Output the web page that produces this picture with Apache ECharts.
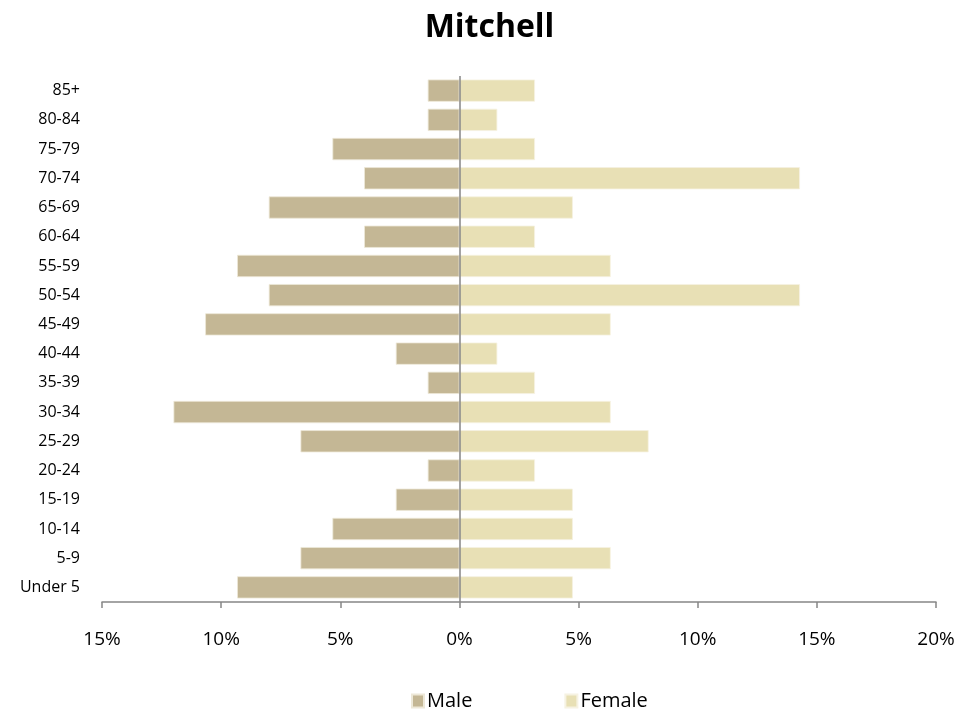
<!DOCTYPE html>
<html>
<head>
<meta charset="utf-8">
<script src="https://cdn.jsdelivr.net/npm/echarts@6/dist/echarts.min.js"></script>
<style>html,body{margin:0;padding:0;background:#fff;}#chart{width:979px;height:713px;}</style>
</head>
<body>
<div id="chart"></div>
<script>
const categories = ['Under 5','5-9','10-14','15-19','20-24','25-29','30-34','35-39','40-44','45-49','50-54','55-59','60-64','65-69','70-74','75-79','80-84','85+'];
const malePct = [9.33, 6.67, 5.33, 2.67, 1.33, 6.67, 12.0, 1.33, 2.67, 10.67, 8.0, 9.33, 4.0, 8.0, 4.0, 5.33, 1.33, 1.33];
const femalePct = [4.76, 6.35, 4.76, 4.76, 3.17, 7.94, 6.35, 3.17, 1.59, 6.35, 14.29, 6.35, 3.17, 4.76, 14.29, 3.17, 1.59, 3.17];
const xTicks = { min: -15, max: 20, interval: 5 };

const font = '"Open Sans", "Liberation Sans", sans-serif';
const chart = echarts.init(document.getElementById('chart'));
chart.setOption({
  animation: false,
  title: {
    text: 'Mitchell', left: 'center', top: 7,
    textStyle: { fontFamily: font, fontSize: 32, fontWeight: 'bold', color: '#000' }
  },
  legend: {
    top: 686, left: 406, itemWidth: 12, itemHeight: 13, itemGap: 92,
    icon: 'rect',
    textStyle: { fontFamily: font, fontSize: 20, color: '#000', padding: [0,0,0,-2] },
    data: ['Male', 'Female']
  },
  grid: { left: 102, right: 43, top: 76, height: 526, containLabel: false },
  xAxis: {
    type: 'value', min: xTicks.min, max: xTicks.max, interval: xTicks.interval,
    axisLine: { show: true, onZero: false, lineStyle: { color: '#868686', width: 1.5 } },
    axisTick: { show: true, length: 6, lineStyle: { color: '#868686', width: 1.5 } },
    splitLine: { show: false },
    axisLabel: {
      margin: 28, fontFamily: font, fontSize: 19, color: '#000',
      formatter: v => Math.abs(v) + '%'
    }
  },
  yAxis: {
    type: 'category', data: categories,
    axisLine: { show: false }, axisTick: { show: false },
    axisLabel: { margin: 22, fontFamily: font, fontSize: 16, color: '#000' }
  },
  series: [
    {
      name: 'Male', type: 'bar', stack: 'total', barCategoryGap: '24%',
      data: malePct.map(v => -v),
      itemStyle: { color: '#C4B795', borderColor: '#ede8d8', borderWidth: 0.8 },
      markLine: {
        silent: true, symbol: 'none', label: { show: false },
        lineStyle: { color: '#868686', width: 1.5, type: 'solid' },
        data: [{ xAxis: 0 }]
      },
      z: 2
    },
    {
      name: 'Female', type: 'bar', stack: 'total', barCategoryGap: '24%',
      data: femalePct,
      itemStyle: { color: '#E8E0B5', borderColor: '#f6f2e2', borderWidth: 0.8 },
      z: 2
    }
  ]
});
</script>
</body>
</html>
